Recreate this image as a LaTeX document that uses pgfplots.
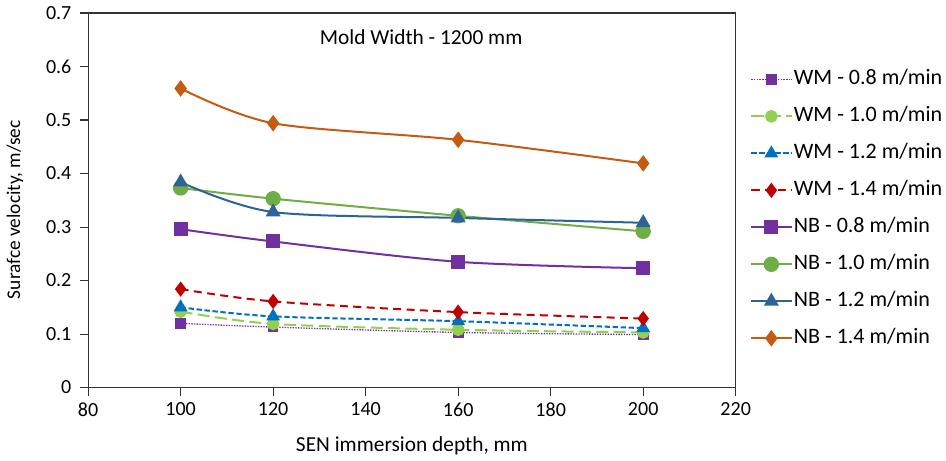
\documentclass[border=0pt]{standalone}
\usepackage{pgfplots}
\pgfplotsset{compat=1.18}
\usepackage{fontspec}
\setmainfont{Carlito}
\definecolor{wmpurple}{HTML}{7030A0}
\definecolor{wmgreen}{HTML}{92D050}
\definecolor{wmblue}{HTML}{0070C0}
\definecolor{wmred}{HTML}{C00000}
\definecolor{nbgreen}{HTML}{70AD47}
\definecolor{nbblue}{HTML}{2E6399}
\definecolor{nbbrown}{HTML}{C55A11}

\begin{document}
\begin{tikzpicture}
\begin{axis}[
  scale only axis,
  width=485pt, height=280.5pt,
  xmin=80, xmax=220, ymin=0, ymax=0.7,
  xtick={80,100,...,220},
  ytick={0,0.1,...,0.7},
  yticklabels={0,0.1,0.2,0.3,0.4,0.5,0.6,0.7},
  tick align=outside,
  xtick pos=bottom, ytick pos=left,
  major tick length=6pt,
  axis line style={black!80, line width=0.8pt},
  tick style={black!80, line width=0.8pt},
  /pgf/number format/assume math mode=true,
  tick label style={font=\fontsize{15}{17}\selectfont},
  yticklabel style={xshift=-3pt},
  xticklabel style={yshift=-2pt},
  xlabel={SEN immersion depth, mm},
  ylabel={Surafce velocity, m/sec},
  xlabel style={font=\fontsize{16}{18}\selectfont,
    at={(axis description cs:0.5,-0.155)}, anchor=center},
  ylabel style={font=\fontsize{14.5}{17}\selectfont,
    at={(axis description cs:-0.113,0.475)}, anchor=center},
  legend style={at={(axis description cs:1.022,0.852)}, anchor=north west,
    draw=none, fill=none, inner sep=0pt, font=\fontsize{16.5}{19}\selectfont,
    nodes={inner sep=1pt, text height=11pt, text depth=3pt},
    row sep=11.7pt},
  legend cell align=left,
  legend image code/.code={
    \draw[mark repeat=2,mark phase=2] plot coordinates {(0cm,0cm) (0.53cm,0cm) (1.06cm,0cm)};},
]

% WM series (dashed / dotted)
\addplot[wmpurple, line width=1pt, densely dotted, smooth, tension=0.5,
  mark=square*, mark size=3.5pt, mark options={solid, fill=wmpurple}] coordinates {
  (100,0.120) (120,0.113) (160,0.103) (200,0.099)
};
\addlegendentry{WM - 0.8 m/min}

\addplot[wmgreen, line width=1.5pt, dash pattern=on 9pt off 4pt, smooth, tension=0.5,
  mark=*, mark size=4pt, mark options={solid, fill=wmgreen}] coordinates {
  (100,0.142) (120,0.119) (160,0.108) (200,0.103)
};
\addlegendentry{WM - 1.0 m/min}

\addplot[wmblue, line width=1.5pt, dash pattern=on 4pt off 2pt, smooth, tension=0.5,
  mark=triangle*, mark size=4.5pt, mark options={solid, fill=wmblue}] coordinates {
  (100,0.150) (120,0.133) (160,0.124) (200,0.111)
};
\addlegendentry{WM - 1.2 m/min}

\addplot[wmred, line width=1.5pt, dash pattern=on 6pt off 4pt, smooth, tension=0.5,
  mark=diamond*, mark size=4.5pt, mark options={solid, fill=wmred}] coordinates {
  (100,0.184) (120,0.161) (160,0.141) (200,0.129)
};
\addlegendentry{WM - 1.4 m/min}

% NB series (solid)
\addplot[wmpurple, line width=1.5pt, smooth, tension=0.5,
  mark=square*, mark size=4.5pt, mark options={fill=wmpurple}] coordinates {
  (100,0.296) (120,0.273) (160,0.235) (200,0.223)
};
\addlegendentry{NB - 0.8 m/min}

\addplot[nbgreen, line width=1.5pt, smooth, tension=0.5,
  mark=*, mark size=5pt, mark options={fill=nbgreen}] coordinates {
  (100,0.373) (120,0.353) (160,0.321) (200,0.292)
};
\addlegendentry{NB - 1.0 m/min}

\addplot[nbblue, line width=1.5pt, smooth, tension=0.5,
  mark=triangle*, mark size=5pt, mark options={fill=nbblue}] coordinates {
  (100,0.384) (120,0.328) (160,0.317) (200,0.308)
};
\addlegendentry{NB - 1.2 m/min}

\addplot[nbbrown, line width=1.5pt, smooth, tension=0.5,
  mark=diamond*, mark size=5pt, mark options={fill=nbbrown}] coordinates {
  (100,0.559) (120,0.494) (160,0.463) (200,0.419)
};
\addlegendentry{NB - 1.4 m/min}

\node[font=\fontsize{16}{18}\selectfont] at (axis cs:152,0.655) {Mold Width - 1200 mm};

\coordinate (bl) at (rel axis cs:0,0);
\coordinate (tr) at (rel axis cs:1,1);
\end{axis}
% page margins matching the reference
\path (bl) ++(-66pt,-55pt) coordinate (pbl);
\path (tr) ++(157.5pt,9.75pt) coordinate (ptr);
\path (pbl) rectangle (ptr);
\end{tikzpicture}
\end{document}
